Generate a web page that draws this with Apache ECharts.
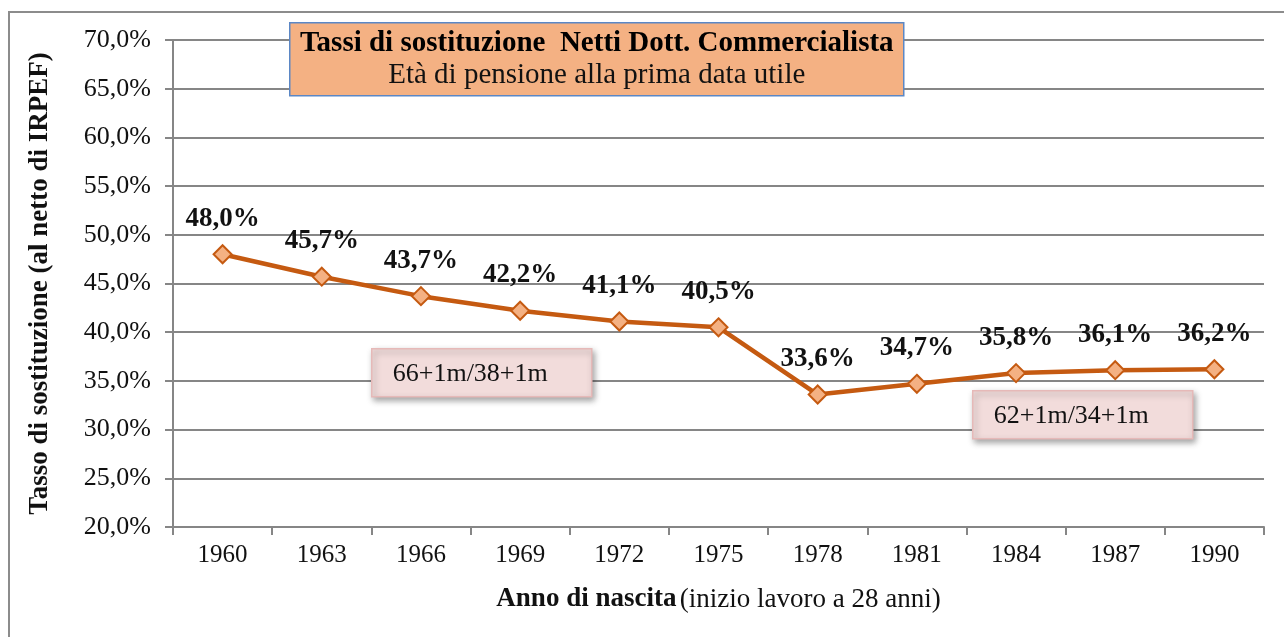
<!DOCTYPE html>
<html>
<head>
<meta charset="utf-8">
<script src="https://cdn.jsdelivr.net/npm/echarts@6/dist/echarts.min.js"></script>
<style>
  html, body { margin: 0; padding: 0; background: #fff; }
  #chart { width: 1284px; height: 637px; }
</style>
</head>
<body>
<div id="chart"></div>
<script>
// Birth years (category axis)
const anni = ['1960', '1963', '1966', '1969', '1972', '1975', '1978', '1981', '1984', '1987', '1990'];
// Net replacement rates, percent
const tassi = [48.0, 45.7, 43.7, 42.2, 41.1, 40.5, 33.6, 34.7, 35.8, 36.1, 36.2];
// Y axis range and step, percent
const yMin = 20, yMax = 70, yStep = 5;
// Text blocks
const titolo = 'Tassi di sostituzione  Netti Dott. Commercialista';
const sottotitolo = 'Età di pensione alla prima data utile';
const notaSinistra = '66+1m/38+1m';
const notaDestra = '62+1m/34+1m';
const yNome = 'Tasso di sostituzione (al netto di IRPEF)';

const serif = '"Liberation Serif", "Times New Roman", serif';
const fmt = v => v.toFixed(1).replace('.', ',') + '%';

const chart = echarts.init(document.getElementById('chart'), null, { renderer: 'canvas' });

function notaBox(x, y, testo) {
  return {
    type: 'group', left: x, top: y,
    children: [
      { type: 'rect', z: 100, shape: { x: 0, y: 0, width: 220, height: 48 },
        style: { fill: '#F2DCDB', stroke: '#E6B9B8', lineWidth: 1.5,
                 shadowBlur: 6, shadowOffsetX: 2, shadowOffsetY: 3, shadowColor: 'rgba(0,0,0,0.35)' } },
      { type: 'text', z: 101, x: 21, y: 25,
        style: { text: testo, font: '26px ' + serif, fill: '#111', verticalAlign: 'middle' } }
    ]
  };
}

chart.setOption({
  animation: false,
  backgroundColor: '#fff',
  grid: { left: 173, right: 20, top: 40, bottom: 110, containLabel: false },
  xAxis: {
    type: 'category',
    data: anni,
    boundaryGap: true,
    axisLine: { lineStyle: { color: '#868686', width: 2 } },
    axisTick: { show: true, length: 8, lineStyle: { color: '#868686', width: 2 } },
    axisLabel: { color: '#111', fontFamily: serif, fontSize: 25, margin: 16 },
    name: '{b|Anno di nascita} {n|(inizio lavoro a 28 anni)}',
    nameLocation: 'middle',
    nameGap: 59,
    nameTextStyle: {
      rich: {
        b: { fontFamily: serif, fontSize: 27, fontWeight: 'bold', color: '#111' },
        n: { fontFamily: serif, fontSize: 27, color: '#111' }
      }
    }
  },
  yAxis: {
    type: 'value',
    min: yMin, max: yMax, interval: yStep,
    axisLine: { show: true, lineStyle: { color: '#868686', width: 2 } },
    axisTick: { show: true, length: 8, lineStyle: { color: '#868686', width: 2 } },
    splitLine: { show: true, lineStyle: { color: '#868686', width: 2 } },
    axisLabel: { color: '#111', fontFamily: serif, fontSize: 26, margin: 22, formatter: v => fmt(v) },
    name: yNome,
    nameLocation: 'middle',
    nameGap: 119,
    nameTextStyle: { fontFamily: serif, fontSize: 27, fontWeight: 'bold', color: '#111' }
  },
  series: [{
    type: 'line',
    data: tassi,
    symbol: 'diamond',
    symbolSize: 18,
    lineStyle: { color: '#C55A11', width: 4.5 },
    itemStyle: { color: '#F4B183', borderColor: '#C55A11', borderWidth: 2 },
    label: {
      show: true, position: 'top', distance: 12,
      fontFamily: serif, fontSize: 27, fontWeight: 'bold', color: '#111',
      formatter: p => fmt(p.value)
    },
    z: 5
  }],
  graphic: [
    // outer chart frame
    { type: 'rect', z: -1, shape: { x: 9, y: 12, width: 1400, height: 800 },
      style: { fill: 'none', stroke: '#8C8C8C', lineWidth: 2 } },
    // title box
    { type: 'group', left: 289, top: 22,
      children: [
        { type: 'rect', z: 100, shape: { x: 0, y: 0, width: 614, height: 73 },
          style: { fill: '#F4B183', stroke: '#5B87C5', lineWidth: 1.5 } },
        { type: 'text', z: 101, x: 307, y: 21,
          style: { text: titolo, font: 'bold 29px ' + serif, fill: '#000', align: 'center', verticalAlign: 'middle' } },
        { type: 'text', z: 101, x: 307, y: 53,
          style: { text: sottotitolo, font: '29px ' + serif, fill: '#111', align: 'center', verticalAlign: 'middle' } }
      ] },
    notaBox(371, 348, notaSinistra),
    notaBox(972, 390, notaDestra)
  ]
});
</script>
</body>
</html>
